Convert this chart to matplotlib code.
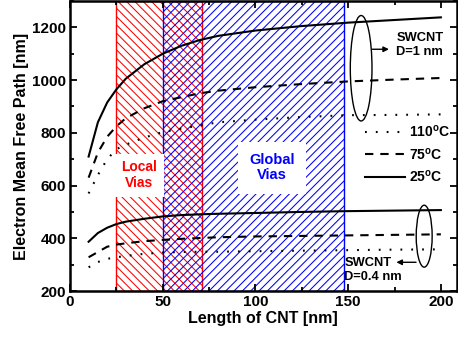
import matplotlib
matplotlib.use("Agg")
import matplotlib.pyplot as plt
from matplotlib.patches import Rectangle, Ellipse
from matplotlib.ticker import MultipleLocator

plt.rcParams["font.family"] = ["Liberation Sans", "DejaVu Sans"]
plt.rcParams["font.weight"] = "bold"
plt.rcParams["mathtext.fontset"] = "custom"
plt.rcParams["mathtext.rm"] = "Liberation Sans:bold"
plt.rcParams["mathtext.bf"] = "Liberation Sans:bold"
plt.rcParams["lines.scale_dashes"] = False
plt.rcParams["hatch.linewidth"] = 0.75

# ---------------------------------------------------------------- data
length = [10, 15, 20, 25, 30, 40, 50, 60, 70, 80, 100, 125, 150, 175, 200]

# SWCNT D = 1 nm
d1_25c = [710, 840, 915, 965, 1005, 1060, 1100, 1130, 1152, 1168, 1188, 1205, 1218, 1228, 1238]
d1_75c = [630, 725, 785, 825, 855, 893, 920, 935, 950, 960, 973, 985, 995, 1002, 1008]
d1_110c = [570, 640, 700, 738, 755, 782, 803, 816, 828, 840, 850, 860, 867, 868, 870]

# SWCNT D = 0.4 nm
d04_25c = [387, 420, 440, 454, 463, 474, 483, 488, 491, 493, 496, 500, 503, 505, 507]
d04_75c = [328, 348, 368, 376, 381, 389, 394, 398, 401, 404, 407, 409, 411, 413, 415]
d04_110c = [290, 310, 322, 328, 333, 341, 346, 348, 349, 349, 351, 353, 355, 357, 358]

local_vias = (25, 71)
global_vias = (50, 147.5)

# ---------------------------------------------------------------- plot
fig = plt.figure(figsize=(4.58, 3.38), dpi=100)
ax = fig.add_axes([0.153, 0.139, 0.844, 0.858])

ax.add_patch(Rectangle((local_vias[0], 200), local_vias[1] - local_vias[0], 1100,
                       facecolor="none", edgecolor="red", hatch="\\\\\\\\",
                       lw=1.0, zorder=1))
ax.add_patch(Rectangle((global_vias[0], 200), global_vias[1] - global_vias[0], 1100,
                       facecolor="none", edgecolor="blue", hatch="////",
                       lw=1.0, zorder=1))

solid = "-"
dashed = (0, (6, 5))
dotted = (0, (1.3, 6.5))
lw = 1.5

l110, = ax.plot(length, d1_110c, color="k", ls=dotted, lw=lw, zorder=3,
                label=r"110$^\mathregular{o}$C")
l75, = ax.plot(length, d1_75c, color="k", ls=dashed, lw=lw, zorder=3,
               label=r"75$^\mathregular{o}$C")
l25, = ax.plot(length, d1_25c, color="k", ls=solid, lw=lw, zorder=3,
               label=r"25$^\mathregular{o}$C")
ax.plot(length, d04_110c, color="k", ls=dotted, lw=lw, zorder=3)
ax.plot(length, d04_75c, color="k", ls=dashed, lw=lw, zorder=3)
ax.plot(length, d04_25c, color="k", ls=solid, lw=lw, zorder=3)

# region labels
ax.text(37, 640, "Local\nVias", color="red", fontsize=10, fontweight="bold",
        ha="center", va="center", linespacing=1.1, zorder=4,
        bbox=dict(facecolor="white", edgecolor="none", pad=5))
ax.text(109, 668, "Global\nVias", color="blue", fontsize=10.5, fontweight="bold",
        ha="center", va="center", linespacing=1.15, zorder=4,
        bbox=dict(facecolor="white", edgecolor="none", pad=8))

# diameter annotations
ax.add_patch(Ellipse((157, 1045), 11.7, 400, facecolor="none", edgecolor="k",
                     lw=1.0, zorder=4))
ax.annotate("", xy=(172, 1117), xytext=(163, 1117),
            arrowprops=dict(arrowstyle="-|>", color="k", lw=1.0,
                            mutation_scale=8, shrinkA=0, shrinkB=0))
ax.text(176, 1132, "SWCNT\nD=1 nm", fontsize=9.3, fontweight="bold",
        ha="left", va="center", linespacing=1.2)

ax.add_patch(Ellipse((191, 408), 8.6, 235, facecolor="none", edgecolor="k",
                     lw=1.0, zorder=4))
ax.annotate("", xy=(176, 309), xytext=(186.6, 309),
            arrowprops=dict(arrowstyle="-|>", color="k", lw=1.0,
                            mutation_scale=8, shrinkA=0, shrinkB=0))
ax.text(148, 280, "SWCNT\nD=0.4 nm", fontsize=9.3, fontweight="bold",
        ha="left", va="center", linespacing=1.2)

ax.legend(handles=[l110, l75, l25], loc="upper right",
          bbox_to_anchor=(1.005, 0.605), frameon=False, fontsize=10,
          handlelength=2.9, handletextpad=0.25, labelspacing=0.45,
          borderpad=0.1)

ax.set_xlim(0, 208.5)
ax.set_ylim(200, 1300)
ax.xaxis.set_major_locator(MultipleLocator(50))
ax.xaxis.set_minor_locator(MultipleLocator(25))
ax.yaxis.set_major_locator(MultipleLocator(200))
ax.yaxis.set_minor_locator(MultipleLocator(100))
ax.tick_params(which="both", direction="in", top=True, right=True, width=1.3)
ax.tick_params(which="major", length=5, labelsize=11, pad=3)
ax.tick_params(which="minor", length=3)
for s in ax.spines.values():
    s.set_linewidth(1.8)

ax.set_xlabel("Length of CNT [nm]", fontsize=11.5, fontweight="bold", labelpad=1)
ax.set_ylabel("Electron Mean Free Path [nm]", fontsize=11.5, fontweight="bold",
              labelpad=2)

fig.savefig("out.png", dpi=100)
